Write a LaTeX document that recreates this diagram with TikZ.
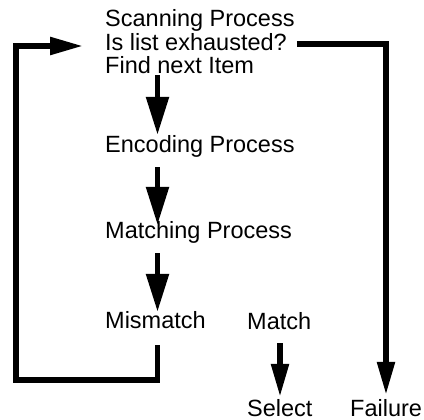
\documentclass[tikz,border=0pt]{standalone}
\usepackage{fontspec}
\setmainfont{Liberation Sans}
\usetikzlibrary{arrows.meta}
\begin{document}
\begin{tikzpicture}[x=1pt,y=-1pt,
  lbl/.style={inner sep=0pt,anchor=base west,text height=17pt,text depth=5pt,font=\fontsize{23.5}{24}\selectfont},
  bigarr/.style={line width=5.5pt,-{Triangle[length=38pt,width=22pt]}},
  smallarr/.style={line width=5.5pt,-{Triangle[length=33pt,width=17pt]}}]
\useasboundingbox (0,0) rectangle (424,420);
\node[lbl] (scan) at (105,27) {Scanning Process};
\node[lbl] (exh)  at (105,51) {Is list exhausted?};
\node[lbl] (find) at (105,74) {Find next Item};
\node[lbl] (enc)  at (105,153) {Encoding Process};
\node[lbl] (mat)  at (105,239) {Matching Process};
\node[lbl] (mis)  at (105,329) {Mismatch};
\node[lbl] (match) at (247,330) {Match};
\node[lbl,text depth=0pt] (sel)  at (247,416) {Select};
\node[lbl,text depth=0pt] (fail) at (350,416) {Failure};
\coordinate (cx) at (157.5,0);
\coordinate (mx) at (280,0);
\coordinate (rx) at (386,0);
\coordinate (lx) at (16,0);
\coordinate (by) at (0,380);
% main chain
\draw[bigarr] ([yshift=4pt]find.south -| cx) -- ([yshift=1pt]enc.north -| cx);
\draw[bigarr] ([yshift=-9pt]enc.south -| cx) -- ([yshift=-3pt]mat.north -| cx);
\draw[bigarr] ([yshift=-9pt]mat.south -| cx) -- (mis.north -| cx);
% mismatch loop back
\draw[smallarr] ([yshift=-11pt]mis.south -| cx) -- (by -| cx) -- (by -| lx)
  -- ([yshift=-1pt]exh.west -| lx) -- ([xshift=-22pt,yshift=-1pt]exh.west);
% failure path
\draw[smallarr] ([xshift=10pt,yshift=1pt]exh.east) -- ([yshift=1pt]exh.east -| rx)
  -- ([yshift=4pt]fail.north -| rx);
% match
\draw[smallarr] ([yshift=-8pt]match.south -| mx) -- ([yshift=2pt]sel.north -| mx);
\end{tikzpicture}
\end{document}
